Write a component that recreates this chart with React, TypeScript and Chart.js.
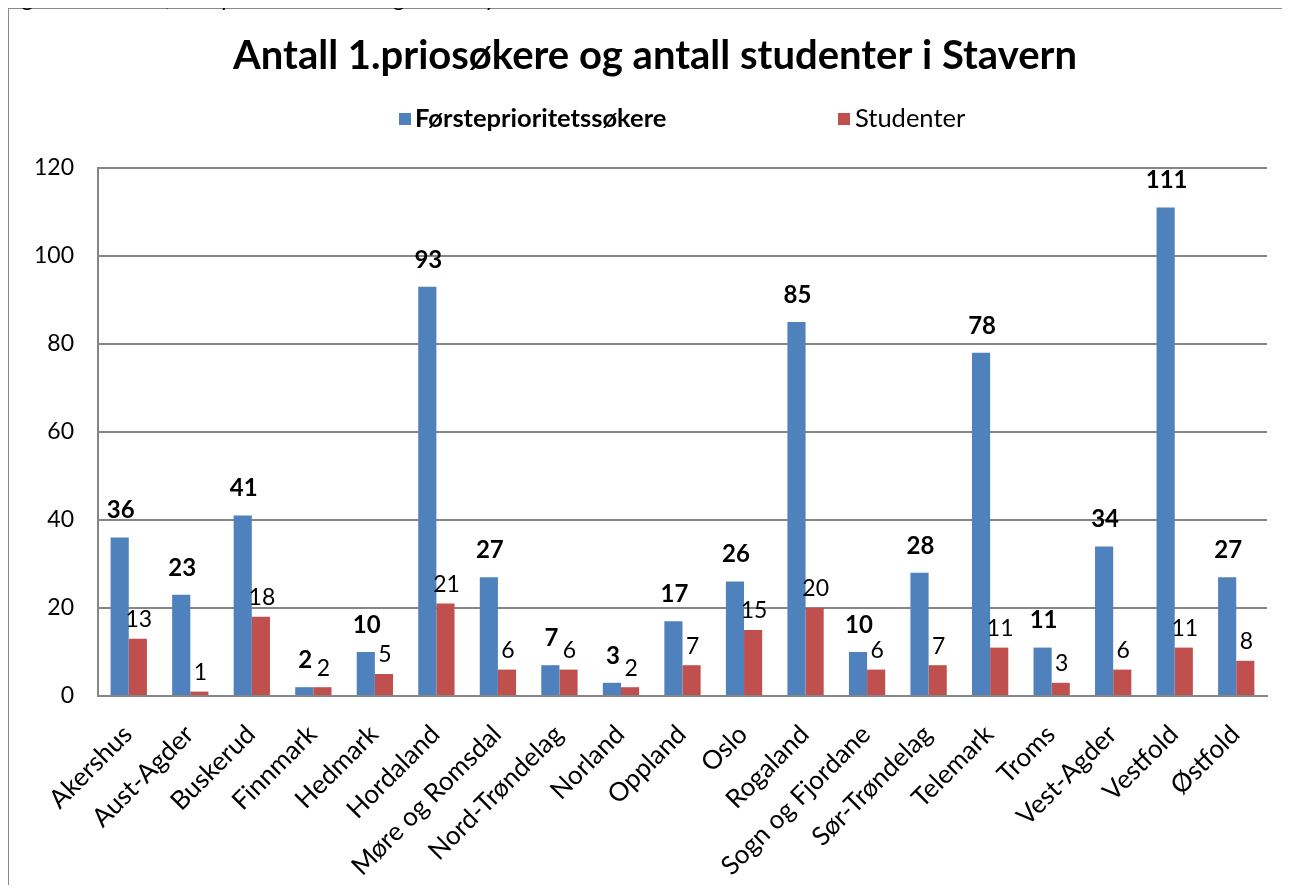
import React, { useEffect, useRef } from "react";
import { Chart, registerables } from "chart.js";

Chart.register(...registerables);

const categories = [
  "Akershus", "Aust-Agder", "Buskerud", "Finnmark", "Hedmark", "Hordaland",
  "Møre og Romsdal", "Nord-Trøndelag", "Norland", "Oppland", "Oslo", "Rogaland",
  "Sogn og Fjordane", "Sør-Trøndelag", "Telemark", "Troms", "Vest-Agder", "Vestfold", "Østfold",
];
const applicants = [36, 23, 41, 2, 10, 93, 27, 7, 3, 17, 26, 85, 10, 28, 78, 11, 34, 111, 27];
const students = [13, 1, 18, 2, 5, 21, 6, 6, 2, 7, 15, 20, 6, 7, 11, 3, 6, 11, 8];
const seriesNames = ["Førsteprioritetssøkere", "Studenter"];
const yMin = 0;
const yMax = 120;
const yStep = 20;

const titleText = "Antall 1.priosøkere og antall studenter i Stavern";
const captionText = "Figur 12: Antall førsteprioritetssøkere og antall nye studenter i Stavern 2013";

const FONT = "Lato, 'Open Sans', 'DejaVu Sans', sans-serif";
const BLUE = "#4F81BD";
const RED = "#C0504D";
const GRID = "#868686";

const decorPlugin = {
  id: "decor",
  afterDraw(chart: any) {
    const ctx = chart.ctx;
    ctx.save();
    // cropped caption above the frame
    ctx.fillStyle = "#000";
    ctx.font = `italic 24px ${FONT}`;
    ctx.textAlign = "left";
    ctx.textBaseline = "alphabetic";
    ctx.fillText(captionText, 5, 6);

    // title
    ctx.font = `bold 40px ${FONT}`;
    ctx.textAlign = "center";
    ctx.textBaseline = "middle";
    ctx.fillText(titleText, 655, 56);
    // legend
    ctx.textAlign = "left";
    ctx.fillStyle = BLUE;
    ctx.fillRect(399, 113, 12, 12);
    ctx.fillStyle = "#000";
    ctx.font = `bold 25.5px ${FONT}`;
    ctx.fillText(seriesNames[0], 415, 119);
    ctx.fillStyle = RED;
    ctx.fillRect(838, 113, 12, 12);
    ctx.fillStyle = "#000";
    ctx.font = `25.5px ${FONT}`;
    ctx.fillText(seriesNames[1], 855, 119);

    // rotated category labels, placed from the x scale
    const xs = chart.scales.x;
    ctx.font = `26px ${FONT}`;
    ctx.textAlign = "right";
    ctx.textBaseline = "alphabetic";
    categories.forEach((c, i) => {
      const px = xs.getPixelForValue(i);
      ctx.save();
      ctx.translate(px + 5, xs.top + 40);
      ctx.rotate(-Math.PI / 4);
      ctx.fillText(c, 0, 0);
      ctx.restore();
    });

    // data labels
    ctx.textAlign = "center";
    ctx.textBaseline = "middle";
    chart.data.datasets.forEach((ds: any, di: number) => {
      const meta = chart.getDatasetMeta(di);
      meta.data.forEach((bar: any, i: number) => {
        const v = ds.data[i];
        if (di === 0) {
          ctx.font = `bold 24px ${FONT}`;
          ctx.fillText(String(v), bar.x + 1, bar.y - 27);
        } else {
          ctx.font = `23px ${FONT}`;
          ctx.fillText(String(v), bar.x + 1, bar.y - 19);
        }
      });
    });
    ctx.restore();
  },
};

export default function App() {
  const canvasRef = useRef<HTMLCanvasElement | null>(null);

  useEffect(() => {
    const canvas = canvasRef.current;
    if (!canvas) return;
    const chart = new Chart(canvas, {
      type: "bar",
      data: {
        labels: categories,
        datasets: [
          {
            label: seriesNames[0],
            data: applicants,
            backgroundColor: BLUE,
            borderWidth: 0,
            categoryPercentage: 0.59,
            barPercentage: 1,
          },
          {
            label: seriesNames[1],
            data: students,
            backgroundColor: RED,
            borderWidth: 0,
            categoryPercentage: 0.59,
            barPercentage: 1,
          },
        ],
      },
      options: {
        animation: false,
        responsive: false,
        maintainAspectRatio: false,
        layout: { padding: { left: 0, top: 168, right: 23, bottom: 0 } },
        plugins: {
          legend: { display: false },
          title: { display: false },
          tooltip: { enabled: false },
        },
        scales: {
          x: {
            grid: { display: false, drawTicks: false },
            border: { display: true, color: GRID, width: 2 },
            ticks: { display: false },
            afterFit(scale: any) {
              scale.height = 197;
            },
          },
          y: {
            min: yMin,
            max: yMax,
            grid: { color: GRID, lineWidth: 2, drawTicks: false },
            border: { display: true, color: GRID, width: 2 },
            ticks: {
              stepSize: yStep,
              color: "#000",
              font: { family: FONT, size: 23 },
              padding: 24,
            },
            afterFit(scale: any) {
              scale.width = 98;
            },
          },
        },
      },
      plugins: [decorPlugin],
    });
    return () => chart.destroy();
  }, []);

  return (
    <div
      style={{
        position: "relative",
        margin: "-8px",
        width: 1290,
        height: 893,
        overflow: "hidden",
        background: "#fff",
      }}
    >
      <div
        style={{
          position: "absolute",
          left: 7,
          top: 7,
          width: 1300,
          height: 900,
          border: "2px solid #8a8a8a",
          boxSizing: "border-box",
        }}
      />
      <canvas
        ref={canvasRef}
        width={1290}
        height={893}
        style={{ position: "absolute", left: 0, top: 0, width: 1290, height: 893 }}
      />
    </div>
  );
}
